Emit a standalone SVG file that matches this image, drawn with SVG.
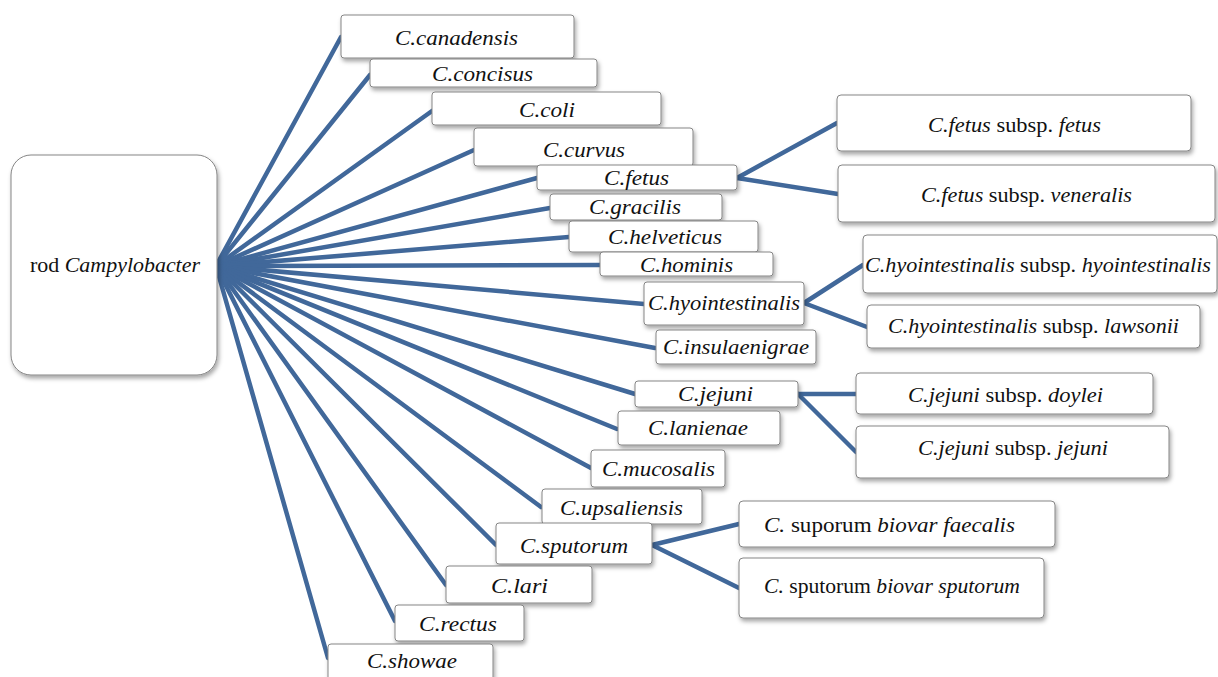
<svg xmlns="http://www.w3.org/2000/svg" width="1218" height="677" viewBox="0 0 1218 677">
<defs>
<filter id="sh" x="-10%" y="-20%" width="130%" height="160%">
<feDropShadow dx="1.5" dy="3" stdDeviation="2" flood-color="#000" flood-opacity="0.35"/>
</filter>
<style>
.box{fill:#fff;stroke:#858585;stroke-width:1;filter:url(#sh)}
.t{font-family:'Liberation Serif';font-size:21px;fill:#111}
.i{font-style:italic}
.c line{stroke:#41689a;stroke-width:4.5;stroke-linecap:round}
</style>
</defs>
<rect width="1218" height="677" fill="#fff"/>
<g id="connectors" class="c">
<line x1="216" y1="266" x2="341" y2="37"/>
<line x1="216" y1="266" x2="370" y2="75"/>
<line x1="216" y1="266" x2="432" y2="111"/>
<line x1="216" y1="266" x2="474" y2="150"/>
<line x1="216" y1="266" x2="537" y2="178"/>
<line x1="216" y1="266" x2="550" y2="208"/>
<line x1="216" y1="266" x2="569" y2="237"/>
<line x1="216" y1="266" x2="600" y2="265"/>
<line x1="216" y1="266" x2="644" y2="304"/>
<line x1="216" y1="266" x2="655" y2="348"/>
<line x1="216" y1="266" x2="635" y2="394"/>
<line x1="216" y1="266" x2="617" y2="429"/>
<line x1="216" y1="266" x2="591" y2="468"/>
<line x1="216" y1="266" x2="541" y2="507"/>
<line x1="216" y1="266" x2="496" y2="545"/>
<line x1="216" y1="266" x2="446" y2="585"/>
<line x1="216" y1="266" x2="395" y2="621"/>
<line x1="216" y1="266" x2="328" y2="658"/>
<line x1="737" y1="178" x2="837" y2="123"/>
<line x1="737" y1="178" x2="838" y2="194"/>
<line x1="804" y1="303" x2="863" y2="265"/>
<line x1="804" y1="303" x2="867" y2="327"/>
<line x1="798" y1="394" x2="856" y2="394"/>
<line x1="798" y1="394" x2="856" y2="452"/>
<line x1="652" y1="545" x2="739" y2="524"/>
<line x1="652" y1="545" x2="739" y2="588"/>
</g>
<g id="root"><rect class="box" x="11" y="155" width="206" height="220" rx="20"/><text class="t" x="30" y="272" textLength="170" lengthAdjust="spacingAndGlyphs">rod <tspan class="i">Campylobacter</tspan></text></g>
<g id="canadensis"><rect class="box" x="341" y="15" width="233" height="43" rx="3"/><text class="t i" x="395" y="45" textLength="123" lengthAdjust="spacingAndGlyphs">C.canadensis</text></g>
<g id="concisus"><rect class="box" x="370" y="59" width="227" height="28" rx="3"/><text class="t i" x="432" y="81" textLength="101" lengthAdjust="spacingAndGlyphs">C.concisus</text></g>
<g id="coli"><rect class="box" x="432" y="92" width="229" height="33" rx="3"/><text class="t i" x="519" y="117" textLength="56" lengthAdjust="spacingAndGlyphs">C.coli</text></g>
<g id="curvus"><rect class="box" x="474" y="128" width="219" height="38" rx="3"/><text class="t i" x="543" y="157" textLength="82" lengthAdjust="spacingAndGlyphs">C.curvus</text></g>
<g id="fetus"><rect class="box" x="537" y="165" width="200" height="25" rx="3"/><text class="t i" x="604" y="185" textLength="65" lengthAdjust="spacingAndGlyphs">C.fetus</text></g>
<g id="gracilis"><rect class="box" x="550" y="194" width="172" height="26" rx="3"/><text class="t i" x="589" y="214" textLength="92" lengthAdjust="spacingAndGlyphs">C.gracilis</text></g>
<g id="helveticus"><rect class="box" x="569" y="221" width="189" height="31" rx="3"/><text class="t i" x="608" y="244" textLength="114" lengthAdjust="spacingAndGlyphs">C.helveticus</text></g>
<g id="hominis"><rect class="box" x="600" y="252" width="173" height="24" rx="3"/><text class="t i" x="640" y="272" textLength="93" lengthAdjust="spacingAndGlyphs">C.hominis</text></g>
<g id="hyointestinalis"><rect class="box" x="644" y="282" width="160" height="43" rx="3"/><text class="t i" x="648" y="310" textLength="152" lengthAdjust="spacingAndGlyphs">C.hyointestinalis</text></g>
<g id="insulaenigrae"><rect class="box" x="656" y="330" width="160" height="34" rx="3"/><text class="t i" x="663" y="354" textLength="146" lengthAdjust="spacingAndGlyphs">C.insulaenigrae</text></g>
<g id="jejuni"><rect class="box" x="635" y="381" width="163" height="26" rx="3"/><text class="t i" x="678" y="401" textLength="75" lengthAdjust="spacingAndGlyphs">C.jejuni</text></g>
<g id="lanienae"><rect class="box" x="618" y="411" width="162" height="34" rx="3"/><text class="t i" x="648" y="435" textLength="100" lengthAdjust="spacingAndGlyphs">C.lanienae</text></g>
<g id="mucosalis"><rect class="box" x="591" y="450" width="134" height="37" rx="3"/><text class="t i" x="602" y="476" textLength="113" lengthAdjust="spacingAndGlyphs">C.mucosalis</text></g>
<g id="upsaliensis"><rect class="box" x="542" y="489" width="160" height="35" rx="3"/><text class="t i" x="560" y="515" textLength="123" lengthAdjust="spacingAndGlyphs">C.upsaliensis</text></g>
<g id="sputorum"><rect class="box" x="496" y="523" width="156" height="41" rx="3"/><text class="t i" x="520" y="553" textLength="108" lengthAdjust="spacingAndGlyphs">C.sputorum</text></g>
<g id="lari"><rect class="box" x="446" y="566" width="146" height="37" rx="3"/><text class="t i" x="491" y="593" textLength="57" lengthAdjust="spacingAndGlyphs">C.lari</text></g>
<g id="rectus"><rect class="box" x="395" y="605" width="129" height="36" rx="3"/><text class="t i" x="419" y="631" textLength="78" lengthAdjust="spacingAndGlyphs">C.rectus</text></g>
<g id="showae"><rect class="box" x="328" y="644" width="165" height="40" rx="3"/><text class="t i" x="367" y="668" textLength="90" lengthAdjust="spacingAndGlyphs">C.showae</text></g>
<g id="fetus-fetus"><rect class="box" x="837" y="95" width="354" height="56" rx="4"/><text class="t" x="928" y="132" textLength="173" lengthAdjust="spacingAndGlyphs"><tspan class="i">C.fetus</tspan> subsp. <tspan class="i">fetus</tspan></text></g>
<g id="fetus-veneralis"><rect class="box" x="838" y="165" width="377" height="57" rx="4"/><text class="t" x="921" y="202" textLength="211" lengthAdjust="spacingAndGlyphs"><tspan class="i">C.fetus</tspan> subsp. <tspan class="i">veneralis</tspan></text></g>
<g id="hyo-hyo"><rect class="box" x="863" y="235" width="354" height="58" rx="4"/><text class="t" x="865" y="272" textLength="346" lengthAdjust="spacingAndGlyphs"><tspan class="i">C.hyointestinalis</tspan> subsp. <tspan class="i">hyointestinalis</tspan></text></g>
<g id="hyo-lawsonii"><rect class="box" x="867" y="305" width="333" height="43" rx="4"/><text class="t" x="888" y="333" textLength="291" lengthAdjust="spacingAndGlyphs"><tspan class="i">C.hyointestinalis</tspan> subsp. <tspan class="i">lawsonii</tspan></text></g>
<g id="jejuni-doylei"><rect class="box" x="856" y="373" width="297" height="41" rx="4"/><text class="t" x="908" y="402" textLength="195" lengthAdjust="spacingAndGlyphs"><tspan class="i">C.jejuni</tspan> subsp. <tspan class="i">doylei</tspan></text></g>
<g id="jejuni-jejuni"><rect class="box" x="856" y="426" width="313" height="52" rx="4"/><text class="t" x="918" y="455" textLength="190" lengthAdjust="spacingAndGlyphs"><tspan class="i">C.jejuni</tspan> subsp. <tspan class="i">jejuni</tspan></text></g>
<g id="sputorum-faecalis"><rect class="box" x="739" y="501" width="316" height="46" rx="4"/><text class="t" x="764" y="532" textLength="251" lengthAdjust="spacingAndGlyphs"><tspan class="i">C.</tspan> suporum <tspan class="i">biovar faecalis</tspan></text></g>
<g id="sputorum-sputorum"><rect class="box" x="739" y="558" width="305" height="60" rx="4"/><text class="t" x="764" y="593" textLength="256" lengthAdjust="spacingAndGlyphs"><tspan class="i">C.</tspan> sputorum <tspan class="i">biovar sputorum</tspan></text></g>
</svg>
